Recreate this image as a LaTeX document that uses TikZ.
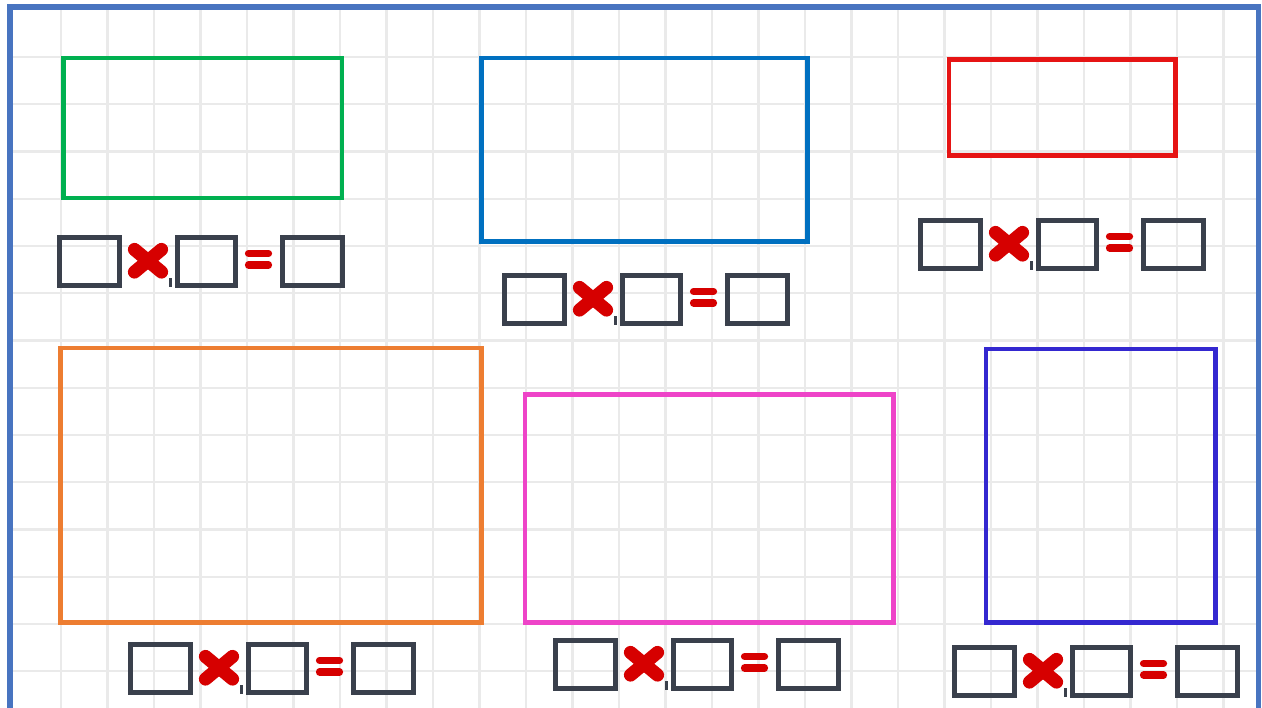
\documentclass[tikz,border=0pt]{standalone}
\definecolor{gridgray}{RGB}{234,234,234}
\definecolor{frameblue}{RGB}{72,116,192}
\definecolor{cgreen}{RGB}{0,176,80}
\definecolor{cblue}{RGB}{0,112,192}
\definecolor{cred}{RGB}{230,20,20}
\definecolor{corange}{RGB}{237,125,49}
\definecolor{cpink}{RGB}{238,68,200}
\definecolor{cviolet}{RGB}{52,40,208}
\definecolor{boxgray}{RGB}{58,64,76}
\definecolor{markred}{RGB}{214,0,0}
\newcommand\eqgroup[3]{%
  \begin{scope}[shift={(#2,#3)}]
    \node[ansbox] (#1a) at (2.5,2.5) {};
    \draw[xmark] (77.5,14.5) -- (104.5,37);
    \draw[xmark] (77.5,37) -- (104.5,14.5);
    \draw[tick] (113,43) -- (113,52);
    \node[ansbox, minimum width=29pt] (#1b) at (120.5,2.5) {};
    \draw[eqmark] (191.5,18.5) -- (211.5,18.5);
    \draw[eqmark] (191.5,30) -- (211.5,30);
    \node[ansbox] (#1c) at (225.5,2.5) {};
  \end{scope}}
\newcommand\shaperect[6]{%
  \node[shapebox, draw=#2, minimum width={(#5-#3)*0.5pt}, minimum height={(#6-#4)*0.5pt}]
    (#1) at ({(#3+#5)/2},{(#4+#6)/2}) {};}
\begin{document}
\begin{tikzpicture}[x=0.5pt,y=-0.5pt,
  gridline/.style={line width=1.1pt, draw=gridgray},
  frameline/.style={line width=2.6pt, draw=frameblue, line join=miter},
  shapebox/.style={line width=2.4pt, inner sep=0pt, outer sep=0pt},
  ansbox/.style={draw=boxgray, line width=2.6pt, inner sep=0pt, outer sep=0pt,
                 minimum width=30pt, minimum height=24pt, anchor=north west},
  xmark/.style={draw=markred, line width=6.6pt, line cap=round},
  eqmark/.style={draw=markred, line width=3.6pt, line cap=round},
  tick/.style={draw=boxgray, line width=1.5pt}]
\useasboundingbox (0,0) rectangle (1262,707);
\fill[white] (0,0) rectangle (1262,707);
% grid
\begin{scope}
  \clip (10,7) rectangle (1258.5,707);
  \foreach \k in {0,...,25} \draw[gridline] ({61+46.5*\k},0) -- ({61+46.5*\k},710);
  \foreach \k in {0,...,13} \draw[gridline] (0,{57+47.25*\k}) -- (1262,{57+47.25*\k});
\end{scope}
% frame
\draw[frameline] (10,720) -- (10,7) -- (1258.5,7) -- (1258.5,720);
% coloured rectangles
\shaperect{green}{cgreen}{63.5}{58}{342}{198}
\shaperect{blue}{cblue}{481.5}{58}{807.5}{241.5}
\shaperect{red}{cred}{949}{59.5}{1175.5}{155.5}
\shaperect{orange}{corange}{60.5}{348}{481.5}{622.5}
\shaperect{pink}{cpink}{525}{394.5}{893.5}{622.5}
\shaperect{violet}{cviolet}{986}{349}{1215.5}{622.5}
% equations
\eqgroup{ga}{57}{235}
\eqgroup{gb}{502}{273}
\eqgroup{gc}{918}{218}
\eqgroup{gd}{128}{642}
\eqgroup{ge}{553}{638}
\eqgroup{gf}{952}{645}
\end{tikzpicture}
\end{document}
